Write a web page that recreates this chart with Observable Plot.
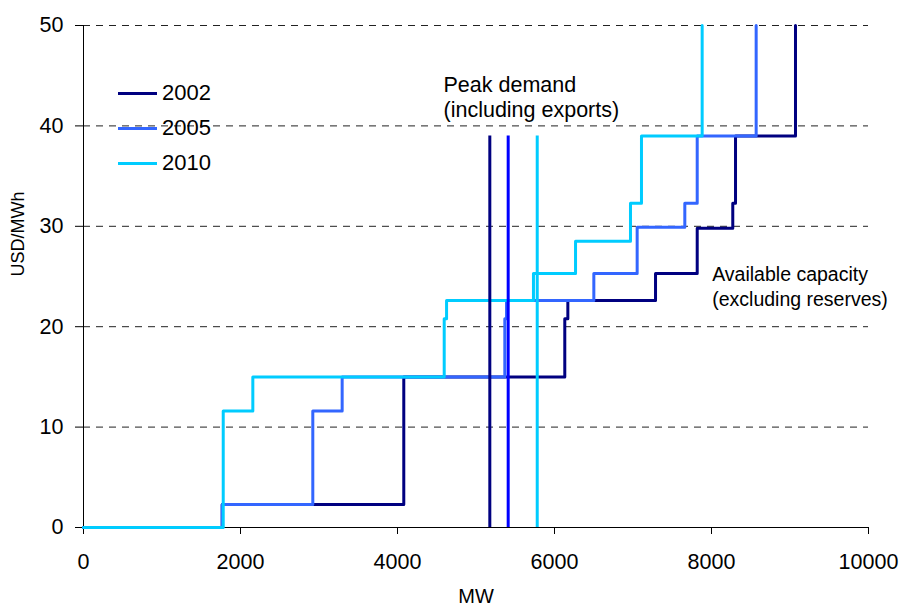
<!DOCTYPE html>
<html>
<head>
<meta charset="utf-8">
<script src="https://cdn.jsdelivr.net/npm/d3@7"></script>
<script src="https://cdn.jsdelivr.net/npm/@observablehq/plot@0.6"></script>
<style>
  body { margin: 0; background: white; font-family: "Liberation Sans", Arial, sans-serif; }
  #wrap { position: relative; width: 901px; height: 610px; }
  .leg { position: absolute; left: 118px; display: flex; align-items: center; font-size: 22px; color: #000; }
  .leg span.sw { display: inline-block; width: 39px; height: 3px; margin-right: 5px; }
</style>
</head>
<body>
<div id="wrap"></div>
<script>
// ---- Data ----
const seriesNames = ["2002", "2005", "2010"];
const seriesColors = ["#000080", "#3366FF", "#00CCFF"];

// Supply curve breakpoints: MW where a step starts, and the price level (USD/MWh) from there on
const mw2002  = [0, 1767, 4080, 6131, 6170, 7287, 7818, 8271, 8306, 9070];
const usd2002 = [0, 2.3, 15.0, 20.8, 22.6, 25.3, 29.8, 32.3, 39.0, 50];

const mw2005  = [0, 1767, 2921, 3295, 5367, 5389, 6501, 7053, 7660, 7818, 8569];
const usd2005 = [0, 2.3, 11.6, 15.0, 20.8, 22.6, 25.3, 29.9, 32.3, 39.0, 50];

const mw2010  = [0, 1780, 2157, 4595, 4625, 5732, 6268, 6968, 7108, 7881];
const usd2010 = [0, 11.6, 15.0, 20.8, 22.6, 25.3, 28.5, 32.3, 39.0, 50];

// Peak demand (including exports), MW, per year; line height in USD/MWh
const peakMW = [5176, 5410, 5780];
const peakTop = 39;
const peakColors = ["#000080", "#0000FF", "#00CCFF"];

const xTicks = [0, 2000, 4000, 6000, 8000, 10000];
const yTicks = [0, 10, 20, 30, 40, 50];

const notePeak = "Peak demand\n(including exports)";
const noteCap = "Available capacity\n(excluding reserves)";

// ---- Build tables ----
const toRows = (mw, usd) => mw.map((m, i) => ({mw: m, usd: usd[i]}));
const rows = [toRows(mw2002, usd2002), toRows(mw2005, usd2005), toRows(mw2010, usd2010)];

const chart = Plot.plot({
  width: 901,
  height: 610,
  marginLeft: 83,
  marginRight: 33,
  marginTop: 25,
  marginBottom: 83,
  x: {domain: [0, 10000]},
  y: {domain: [0, 50]},
  style: {fontFamily: "'Liberation Sans', Arial, sans-serif", color: "#000", background: "white", overflow: "visible"},
  marks: [
    Plot.ruleY(yTicks.filter(v => v > 0), {stroke: "#222", strokeWidth: 1, strokeDasharray: "7,6"}),
    Plot.axisY({ticks: yTicks, tickSize: 8, tickPadding: 12, fontSize: 21.5, label: null, tickFormat: d => String(d)}),
    Plot.axisX({ticks: xTicks, tickSize: 7, tickPadding: 19, fontSize: 21.5, label: null, tickFormat: d => String(d)}),
    Plot.ruleX([0], {stroke: "#000", strokeWidth: 1}),
    Plot.ruleY([0], {stroke: "#000", strokeWidth: 1}),
    ...rows.map((r, i) => Plot.line(r, {x: "mw", y: "usd", curve: "step-after", stroke: seriesColors[i], strokeWidth: 3})),
    ...peakMW.map((m, i) => Plot.ruleX([m], {y1: 0, y2: peakTop, stroke: peakColors[i], strokeWidth: 3})),
    Plot.text([notePeak], {x: 4586, y: 45.2, textAnchor: "start", lineAnchor: "top", fontSize: 21.5, lineHeight: 1.18}),
    Plot.text([noteCap], {x: 8009, y: 26.3, textAnchor: "start", lineAnchor: "top", fontSize: 19.5, lineHeight: 1.28}),
    Plot.text(["MW"], {frameAnchor: "bottom", dy: 75, fontSize: 20}),
    Plot.text(["USD/MWh"], {frameAnchor: "left", dx: -65, rotate: -90, fontSize: 18})
  ]
});

const wrap = document.getElementById("wrap");
wrap.appendChild(chart);

// Legend (HTML overlay)
const legendTops = [93, 128, 163];
seriesNames.forEach((name, i) => {
  const d = document.createElement("div");
  d.className = "leg";
  d.style.top = (legendTops[i] - 14) + "px";
  d.style.height = "28px";
  d.innerHTML = `<span class="sw" style="background:${seriesColors[i]}"></span><span>${name}</span>`;
  wrap.appendChild(d);
});
</script>
</body>
</html>
